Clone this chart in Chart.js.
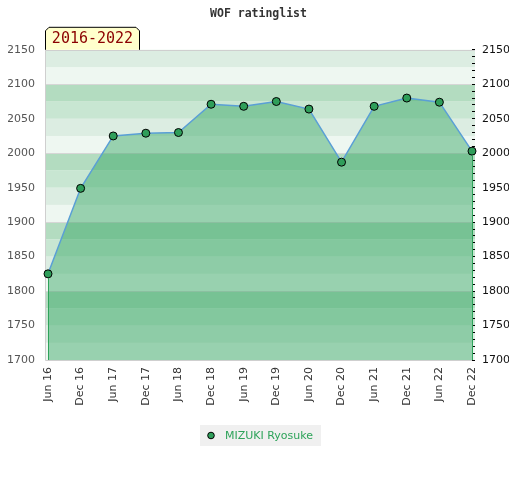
<!DOCTYPE html>
<html>
<head>
<meta charset="utf-8">
<script src="https://cdn.jsdelivr.net/npm/chart.js@4"></script>
<style>
  html, body { margin: 0; padding: 0; background: #fff; }
</style>
</head>
<body>
<canvas id="ratingChart" width="520" height="480"></canvas>
<script>
// ratings
const periods = ['Jun 16', 'Dec 16', 'Jun 17', 'Dec 17', 'Jun 18', 'Dec 18', 'Jun 19',
                 'Dec 19', 'Jun 20', 'Dec 20', 'Jun 21', 'Dec 21', 'Jun 22', 'Dec 22'];
const ratings = [1825, 1949, 2025, 2029, 2030, 2071, 2068, 2075, 2064, 1987, 2068, 2080, 2074, 2003];
const playerName = 'MIZUKI Ryosuke';
const rangeLabel = '2016-2022';
const yMin = 1700;
const yMax = 2150;

// background stripes, one colour per 25 points, repeating every 100
const stripeColors = { 0: '#eef7f1', 25: '#dcede2', 50: '#c8e6d2', 75: '#b3dcc0' };
const legendGreen = '#2ea35a';

const ratingDecor = {
    id: 'ratingDecor',
    beforeDraw(chart) {
        const { ctx, chartArea: a, scales: { y } } = chart;
        const left = a.left - 3, right = a.right + 3;
        ctx.save();
        for (let v = yMin; v < yMax; v += 25) {
            const top = y.getPixelForValue(v + 25);
            const bot = y.getPixelForValue(v);
            ctx.fillStyle = stripeColors[v % 100];
            ctx.fillRect(left, top, right - left, bot - top);
        }
        ctx.strokeStyle = '#d6d6d6';
        ctx.lineWidth = 1;
        for (let v = yMin + 100; v < yMax; v += 100) {
            const py = Math.round(y.getPixelForValue(v)) + 0.5;
            ctx.beginPath(); ctx.moveTo(left, py); ctx.lineTo(right, py); ctx.stroke();
        }
        ctx.strokeStyle = '#cfcfcf';
        ctx.beginPath();
        ctx.moveTo(right, Math.round(a.top) + 0.5);
        ctx.lineTo(left + 0.5, Math.round(a.top) + 0.5);
        ctx.lineTo(left + 0.5, Math.round(a.bottom) + 0.5);
        ctx.lineTo(right, Math.round(a.bottom) + 0.5);
        ctx.stroke();
        ctx.restore();
    },
    afterDatasetsDraw(chart) {
        // green edges of the filled area
        const { ctx, chartArea: a } = chart;
        const pts = chart.getDatasetMeta(0).data;
        ctx.save();
        ctx.strokeStyle = legendGreen;
        ctx.lineWidth = 1;
        [pts[0], pts[pts.length - 1]].forEach(p => {
            const px = Math.round(p.x) + 0.5;
            ctx.beginPath();
            ctx.moveTo(px, p.y + 4);
            ctx.lineTo(px, a.bottom);
            ctx.stroke();
        });
        ctx.restore();
    },
    afterDraw(chart) {
        const { ctx, chartArea: a, width } = chart;
        // period badge
        const x0 = a.left - 3, x1 = x0 + 95, y1 = a.top, y0 = y1 - 23, c = 4;
        ctx.save();
        ctx.beginPath();
        ctx.moveTo(x0 + 0.5, y1);
        ctx.lineTo(x0 + 0.5, y0 + c);
        ctx.lineTo(x0 + c, y0 + 0.5);
        ctx.lineTo(x1 - c, y0 + 0.5);
        ctx.lineTo(x1 - 0.5, y0 + c);
        ctx.lineTo(x1 - 0.5, y1);
        ctx.fillStyle = '#ffffcc';
        ctx.fill();
        ctx.strokeStyle = '#000';
        ctx.lineWidth = 1;
        ctx.stroke();
        ctx.fillStyle = '#8b0000';
        ctx.font = '15px "DejaVu Sans Mono"';
        ctx.textAlign = 'center';
        ctx.textBaseline = 'middle';
        ctx.fillText(rangeLabel, (x0 + x1) / 2, (y0 + y1) / 2 + 1);

        // legend: grey box, dot, name
        const ds = chart.data.datasets[0];
        ctx.font = '11px "DejaVu Sans"';
        const tw = ctx.measureText(ds.label).width;
        const bw = tw + 33, bh = 21;
        const bx = Math.round(width / 2 + 1 - bw / 2), by = 425;
        ctx.fillStyle = '#f0f0f0';
        ctx.fillRect(bx, by, bw, bh);
        ctx.beginPath();
        ctx.arc(bx + 11, by + bh / 2, 3.3, 0, Math.PI * 2);
        ctx.fillStyle = ds.pointBackgroundColor;
        ctx.fill();
        ctx.strokeStyle = '#000';
        ctx.stroke();
        ctx.fillStyle = legendGreen;
        ctx.textAlign = 'left';
        ctx.textBaseline = 'middle';
        ctx.fillText(ds.label, bx + 25, by + bh / 2 + 0.5);
        ctx.restore();
    }
};

const ctx = document.getElementById('ratingChart').getContext('2d');
const ratingChart = new Chart(ctx, {
    type: 'line',
    data: {
        labels: periods,
        datasets: [{
            label: playerName,
            data: ratings,
            borderColor: '#5a9fd6',
            borderWidth: 1.5,
            backgroundColor: 'rgba(43, 161, 92, 0.44)',
            fill: 'start',
            tension: 0,
            pointRadius: 4,
            pointBackgroundColor: '#2f9e5a',
            pointBorderColor: '#000',
            pointBorderWidth: 1,
            clip: false
        }]
    },
    options: {
        responsive: false,
        animation: false,
        devicePixelRatio: 1,
        layout: { padding: { left: 8, right: 11, top: 0, bottom: 70 } },
        plugins: {
            title: {
                display: true,
                text: 'WOF ratinglist',
                color: '#333',
                font: { family: 'DejaVu Sans Mono', size: 11.5, weight: 'bold' },
                padding: { top: 7, bottom: 29 }
            },
            legend: { display: false },
            tooltip: { enabled: false }
        },
        scales: {
            x: {
                offset: false,
                grid: { display: false, drawTicks: false },
                border: { display: false },
                afterFit: s => { s.height = 50; },
                ticks: {
                    autoSkip: false,
                    maxRotation: 90,
                    minRotation: 90,
                    padding: 7,
                    color: '#333',
                    font: { family: 'DejaVu Sans', size: 11 }
                }
            },
            y: {
                position: 'left',
                min: yMin,
                max: yMax,
                grid: { display: false, drawTicks: false },
                border: { display: false },
                afterFit: s => { s.width = 40; },
                ticks: {
                    stepSize: 50,
                    padding: 13,
                    color: '#555',
                    font: { family: 'DejaVu Sans', size: 11 },
                    callback: v => String(v)
                }
            },
            y2: {
                position: 'right',
                min: yMin,
                max: yMax,
                border: { display: false },
                afterFit: s => { s.width = 37; },
                grid: {
                    drawOnChartArea: false,
                    drawTicks: true,
                    tickLength: 3,
                    color: '#000',
                    tickColor: '#000'
                },
                ticks: {
                    stepSize: 10,
                    autoSkip: false,
                    maxTicksLimit: 100,
                    padding: 7,
                    color: '#111',
                    font: { family: 'DejaVu Sans', size: 11 },
                    callback: v => (v % 50 === 0 ? String(v) : '')
                }
            }
        }
    },
    plugins: [ratingDecor]
});
</script>
</body>
</html>
